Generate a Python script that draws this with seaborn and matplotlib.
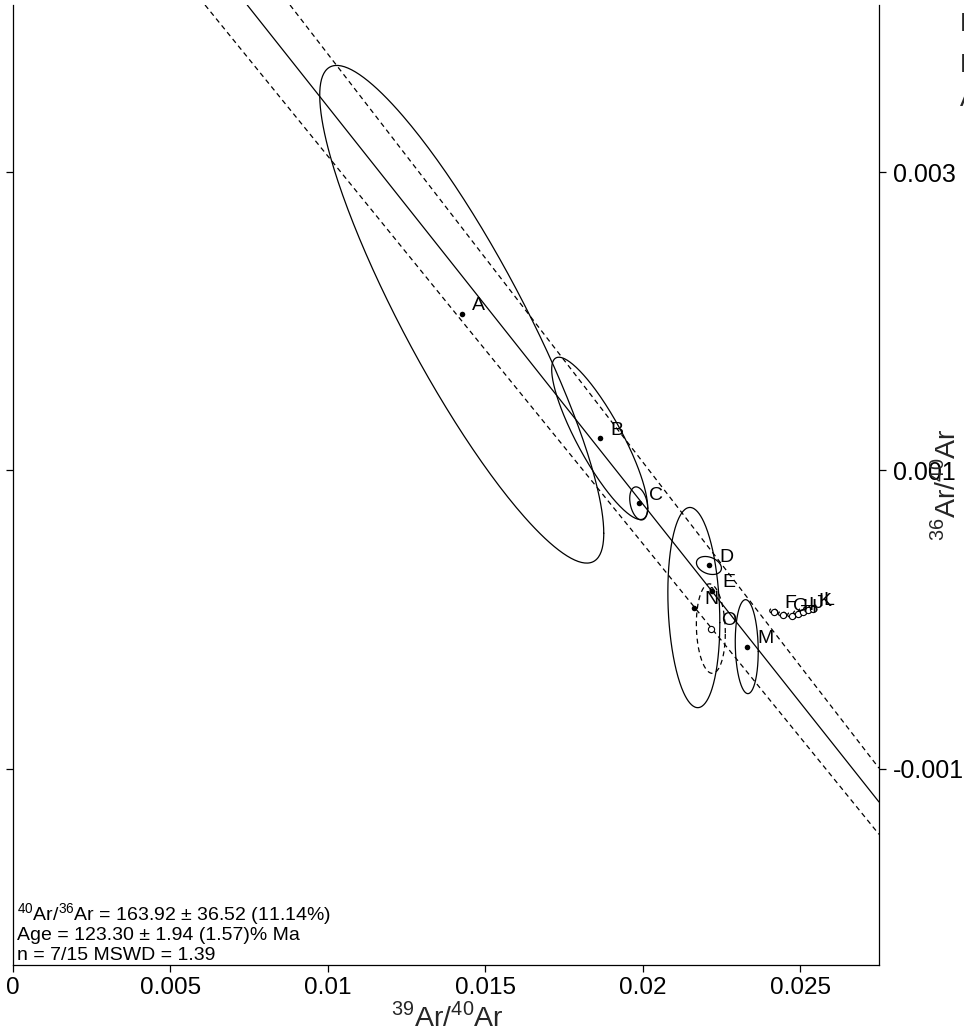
import numpy as np
import pandas as pd
import matplotlib
matplotlib.use("Agg")
import matplotlib.pyplot as plt
import seaborn as sns

# ---------------- data ----------------
labels = list("ABCDEFGHIJKLMNO")
x39_40 = [0.01425, 0.01863, 0.01987, 0.02210, 0.02219, 0.02416, 0.02444, 0.02473,
          0.02492, 0.02508, 0.02524, 0.02540, 0.02330, 0.02162, 0.02216]
y36_40 = [0.002047, 0.001215, 0.000779, 0.000363, 0.000195, 0.000054, 0.000034, 0.000027,
          0.000040, 0.000054, 0.000067, 0.000074, -0.000181, 0.000081, -0.000060]
err_x = [0.00451, 0.001524, 0.000286, 0.000397, 0.00005, 0.00013, 0.00013, 0.00013,
         0.00013, 0.00013, 0.00013, 0.00013, 0.000365, 0.000825, 0.00046]
err_y = [0.001668, 0.000544, 0.000111, 0.0000604, 0.00002, 0.00002, 0.00002, 0.00002,
         0.00002, 0.00002, 0.00002, 0.00002, 0.000315, 0.000671, 0.0003]
err_rho = [-0.88, -0.85, -0.3, -0.3, 0.0, -0.3, -0.3, -0.3,
           -0.3, -0.3, -0.3, -0.3, -0.1, -0.15, -0.1]
included = [True, True, True, True, True, False, False, False,
            False, False, False, False, True, True, False]

# isochron fit and its envelope: (y-intercept, x-intercept)
line_kind = ["fit", "upper", "lower"]
line_y0 = [0.0061006, 0.006526, 0.005704]
line_x0 = [0.02291, 0.02386, 0.02196]

x_ticks = [0, 0.005, 0.01, 0.015, 0.02, 0.025]
x_ticklabels = ["0", "0.005", "0.01", "0.015", "0.02", "0.025"]
y_ticks = [0.003, 0.001, -0.001]
y_ticklabels = ["0.003", "0.001", "-0.001"]

info_lines = [r"$^{\mathregular{40}}$Ar/$^{\mathregular{36}}$Ar = 163.92 ± 36.52 (11.14%)",
              "Age = 123.30 ± 1.94 (1.57)% Ma",
              "n = 7/15 MSWD = 1.39"]

df = pd.DataFrame({"label": labels, "x": x39_40, "y": y36_40, "sx": err_x, "sy": err_y,
                   "rho": err_rho, "inc": included})

# ---------------- style ----------------
sns.set_theme(style="white")
plt.rcParams["font.family"] = ["Liberation Sans", "DejaVu Sans"]
plt.rcParams["mathtext.fontset"] = "custom"
plt.rcParams["mathtext.rm"] = "Liberation Sans"

W, H = 964, 1033
fig = plt.figure(figsize=(W / 100, H / 100), dpi=100)
ax = fig.add_axes([13 / W, 68 / H, 866 / W, 960 / H])
ax.set_facecolor("white")

# error ellipses
t = np.linspace(0, 2 * np.pi, 300)
for _, r in df.iterrows():
    ex = r.x + r.sx * np.cos(t)
    ey = r.y + r.sy * (r.rho * np.cos(t) + np.sqrt(1 - r.rho ** 2) * np.sin(t))
    ax.plot(ex, ey, color="black", lw=0.9,
            ls="-" if r.inc else (0, (4, 3)))

# isochron lines
for kind, y0, x0 in zip(line_kind, line_y0, line_x0):
    ax.axline((0, y0), slope=-y0 / x0, color="black", lw=0.9,
              ls="-" if kind == "fit" else (0, (4, 3)))

# points
sns.scatterplot(data=df[df.inc], x="x", y="y", ax=ax, color="black", s=16,
                edgecolor="black", linewidth=0, zorder=5, legend=False)
sns.scatterplot(data=df[~df.inc], x="x", y="y", ax=ax, facecolor="white", s=20,
                edgecolor="black", linewidth=0.8, zorder=5, legend=False)

for _, r in df.iterrows():
    ax.annotate(r.label, (r.x, r.y), xytext=(7.5, 6), textcoords="offset points",
                fontsize=14, ha="left", va="center", color="black", zorder=6)

ax.set_xlim(0, 0.0275)
ax.set_ylim(-0.002315, 0.00412)
ax.set_xticks(x_ticks)
ax.set_xticklabels(x_ticklabels, fontsize=17.5)
ax.set_yticks(y_ticks)
ax.set_yticklabels(y_ticklabels, fontsize=18)
ax.tick_params(axis="x", bottom=True, direction="out", length=5, width=0.9, pad=4, colors="black")
ax.tick_params(axis="y", left=True, right=True, labelleft=False, labelright=True,
               direction="out", length=5, width=0.9, pad=5, colors="black")
ax.set_xlabel("")
ax.set_ylabel("")
for side in ["left", "bottom", "right"]:
    ax.spines[side].set_visible(True)
    ax.spines[side].set_color("black")
    ax.spines[side].set_linewidth(0.9)
ax.spines["top"].set_visible(False)

# info text
for txt, yy in zip(info_lines, [0.0521, 0.03125, 0.0104]):
    ax.text(0.0046, yy, txt, transform=ax.transAxes, fontsize=14, ha="left", va="center",
            color="black")

# axis titles
fig.text(447 / W, 1 - 1017 / H, r"$^{\mathregular{39}}$Ar/$^{\mathregular{40}}$Ar",
         fontsize=20.5, ha="center", va="center")
fig.text(946 / W, 1 - 485 / H, r"$^{\mathregular{36}}$Ar/$^{\mathregular{40}}$Ar",
         fontsize=20.5, ha="center", va="center", rotation=90)

# clipped legend fragments at the right edge
for ch, yy in zip(["E", "E", "A"], [24, 65, 99]):
    fig.text(959.5 / W, 1 - yy / H, ch, fontsize=19, ha="left", va="center")

fig.savefig("out.png", dpi=100)
